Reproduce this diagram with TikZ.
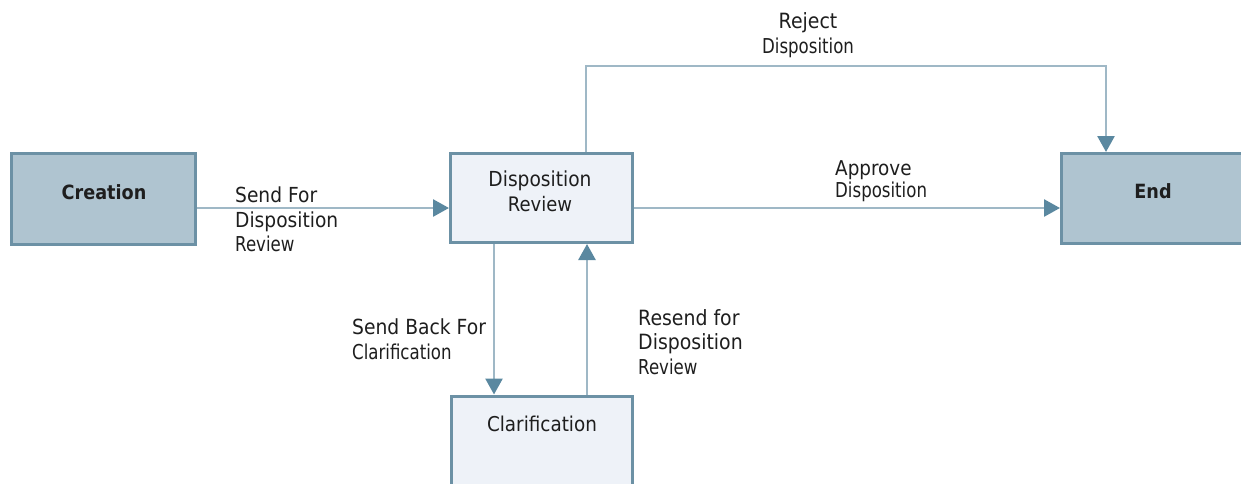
\documentclass[tikz,border=0pt]{standalone}
\usepackage{fontspec}
\newfontfamily\lblfont[FakeStretch=0.9]{DejaVu Sans}
\newfontfamily\narrowfont[FakeStretch=0.81]{DejaVu Sans}
\usetikzlibrary{arrows.meta}
\definecolor{darkfill}{HTML}{AFC4D0}
\definecolor{lightfill}{HTML}{EEF2F8}
\definecolor{boxedge}{HTML}{6C91A5}
\definecolor{linec}{HTML}{9FB8C6}
\definecolor{tipc}{HTML}{5A88A0}
\definecolor{txtc}{HTML}{1E1E1E}
\newcommand\sz[1]{\fontsize{#1}{24.5}\selectfont}
\begin{document}
\begin{tikzpicture}[x=1pt,y=-1pt,
  box/.style={draw=boxedge, line width=3pt, inner sep=0pt, rectangle},
  darkbox/.style={box, fill=darkfill},
  lightbox/.style={box, fill=lightfill},
  conn/.style={draw=linec, line width=2.6pt, -{Triangle[length=16pt,width=17pt,color=tipc]}},
  lbl/.style={font=\lblfont\sz{19}, text=txtc, inner sep=0pt, align=left},
  boldlbl/.style={font=\lblfont\bfseries\sz{19.6}, text=txtc, inner sep=0pt}
]
\useasboundingbox (0,0) rectangle (1241,483);
\fill[white] (0,0) rectangle (1241,483);

% boxes
\node[darkbox, minimum width=184pt, minimum height=91pt] (cre) at (103.5,199) {};
\node[lightbox, minimum width=182pt, minimum height=89pt] (dr) at (541.5,198) {};
\node[darkbox, minimum width=183pt, minimum height=90pt] (end) at (1153,198.5) {};
\node[lightbox, minimum width=181pt, minimum height=120pt] (clar) at (542,456) {};

% box texts
\node[boldlbl, anchor=base] (creT) at (104,199) {Creation};
\node[boldlbl, anchor=base] (endT) at (1153,198) {End};
\node[lbl, align=center, anchor=base] (drT) at (540,211) {{\sz{20.7}Disposition}\\{\sz{20}Review}};
\node[lbl, anchor=base] (clarT) at (542,431) {{\sz{20.4}Clarification}};

% connector helper coordinates
\coordinate (apy) at (0,208);
\coordinate (rjL) at (586,66);
\coordinate (rjR) at (1106,66);
\coordinate (dnx) at (494,0);
\coordinate (upx) at (587,0);

% connectors
\draw[conn] (cre.east |- apy) -- (dr.west |- apy);
\draw[conn] (dr.east |- apy) -- (end.west |- apy);
\draw[conn] (dr.north -| rjL) -- (rjL) -- (rjR) -- (rjR |- end.north);
\draw[conn] (dr.south -| dnx) -- (clar.north -| dnx);
\draw[conn] (clar.north -| upx) -- (dr.south -| upx);

% connector labels
\node[lbl, anchor=base west] (sendL) at (235,251.5) {{\sz{20.7}Send For}\\{\sz{20.7}Disposition}\\{\narrowfont\sz{20.5}Review}};
\node[lbl, anchor=base west] (apprL) at (835,197) {{\sz{20.4}Approve}\\[-2.5pt]{\narrowfont\sz{20.5}Disposition}};
\node[lbl, align=center, anchor=base] (rejL) at (808,53) {{\sz{21}Reject}\\{\narrowfont\sz{20.5}Disposition}};
\node[lbl, anchor=base west] (backL) at (352,359) {{\sz{20.8}Send Back For}\\{\narrowfont\sz{20.5}Clarification}};
\node[lbl, anchor=base west] (resL) at (638,374) {{\sz{21}Resend for}\\{\sz{21}Disposition}\\{\narrowfont\sz{20.5}Review}};
\end{tikzpicture}
\end{document}
